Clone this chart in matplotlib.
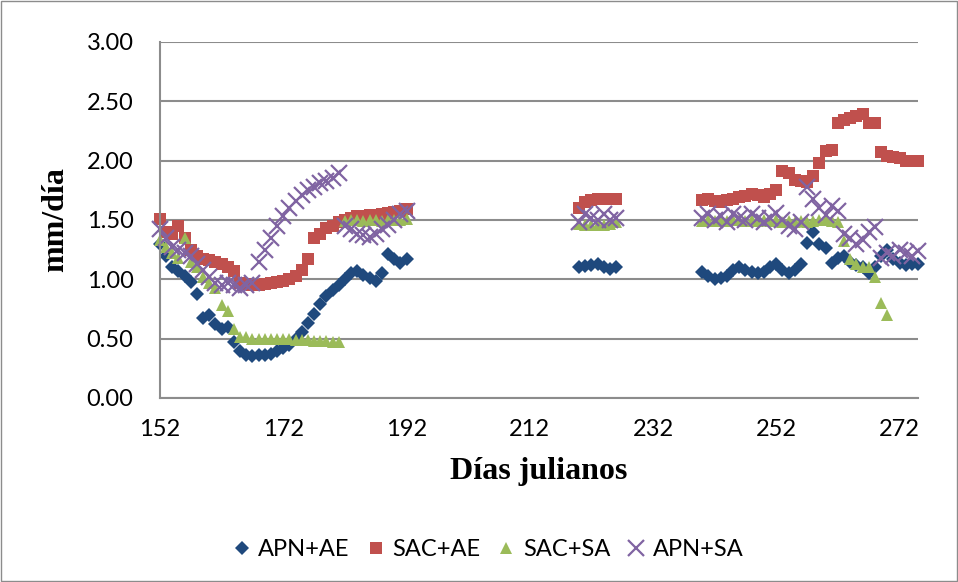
import numpy as np
import matplotlib
matplotlib.use("Agg")
import matplotlib.pyplot as plt
from matplotlib.patches import Rectangle

# dias julianos de cada periodo de medicion
dias_p1 = list(range(152, 193))
dias_p2 = list(range(220, 227))
dias_p3 = list(range(240, 276))

# APN+AE
apn_ae_p1 = [1.30, 1.20, 1.10, 1.07, 1.03, 0.98, 0.88, 0.67, 0.70, 0.62, 0.58, 0.60, 0.47,
             0.40, 0.36, 0.35, 0.36, 0.36, 0.37, 0.40, 0.42, 0.45, 0.50, 0.56, 0.63, 0.71,
             0.79, 0.86, 0.91, 0.95, 1.00, 1.05, 1.07, 1.04, 1.01, 0.99, 1.05, 1.21, 1.17,
             1.14, 1.17]
apn_ae_p2 = [1.10, 1.11, 1.12, 1.13, 1.10, 1.09, 1.10]
apn_ae_p3 = [1.06, 1.03, 1.00, 1.01, 1.03, 1.08, 1.10, 1.08, 1.06, 1.05, 1.06, 1.10, 1.13,
             1.08, 1.05, 1.08, 1.13, 1.31, 1.40, 1.30, 1.26, 1.14, 1.18, 1.20, 1.15, 1.12,
             1.10, 1.05, 1.10, 1.20, 1.25, 1.17, 1.14, 1.12, 1.13, 1.13]

# SAC+AE
sac_ae_p1 = [1.51, 1.40, 1.38, 1.45, 1.35, 1.25, 1.20, 1.17, 1.16, 1.15, 1.13, 1.10, 1.07,
             0.97, 0.96, 0.95, 0.95, 0.96, 0.97, 0.98, 0.99, 1.00, 1.03, 1.08, 1.17, 1.35,
             1.38, 1.43, 1.45, 1.48, 1.50, 1.52, 1.53, 1.53, 1.54, 1.54, 1.55, 1.56, 1.57,
             1.58, 1.59]
sac_ae_p2 = [1.60, 1.65, 1.67, 1.68, 1.68, 1.68, 1.68]
sac_ae_p3 = [1.67, 1.68, 1.66, 1.65, 1.67, 1.68, 1.69, 1.70, 1.72, 1.71, 1.69, 1.72, 1.75,
             1.91, 1.90, 1.84, 1.83, 1.82, 1.87, 1.98, 2.08, 2.09, 2.32, 2.34, 2.36, 2.38,
             2.39, 2.32, 2.32, 2.07, 2.04, 2.03, 2.02, 2.00, 2.00, 2.00]

# SAC+SA
sac_sa_p1 = [1.33, 1.27, 1.22, 1.18, 1.35, 1.15, 1.10, 1.02, 0.97, 0.93, 0.78, 0.73, 0.58,
             0.51, 0.51, 0.50, 0.50, 0.50, 0.50, 0.50, 0.50, 0.50, 0.49, 0.49, 0.49, 0.48,
             0.48, 0.48, 0.47, 0.47, 1.49, 1.50, 1.50, 1.49, 1.50, 1.50, 1.49, 1.50, 1.50,
             1.50, 1.51]
sac_sa_p2 = [1.47, 1.46, 1.46, 1.46, 1.46, 1.47, 1.48]
sac_sa_p3 = [1.49, 1.50, 1.49, 1.50, 1.49, 1.50, 1.50, 1.49, 1.50, 1.49, 1.50, 1.49, 1.50,
             1.48, 1.49, 1.48, 1.49, 1.48, 1.49, 1.50, 1.50, 1.49, 1.48, 1.32, 1.17, 1.13,
             1.10, 1.10, 1.02, 0.80, 0.70, np.nan, np.nan, np.nan, np.nan, np.nan]

# APN+SA
apn_sa_p1 = [1.42, 1.35, 1.27, 1.25, 1.22, 1.20, 1.13, 1.08, 1.02, 0.97, 0.95, 0.97, 0.95,
             0.93, 0.95, 0.97, 1.15, 1.25, 1.35, 1.45, 1.53, 1.60, 1.66, 1.71, 1.75, 1.78,
             1.81, 1.83, 1.85, 1.90, 1.45, 1.42, 1.38, 1.37, 1.36, 1.38, 1.42, 1.46, 1.50,
             1.55, 1.58]
apn_sa_p2 = [1.48, 1.55, 1.52, 1.50, 1.55, 1.50, 1.52]
apn_sa_p3 = [1.52, 1.55, 1.50, 1.53, 1.48, 1.55, 1.52, 1.50, 1.55, 1.52, 1.48, 1.52, 1.56,
             1.50, 1.45, 1.42, 1.48, 1.78, 1.68, 1.60, 1.54, 1.62, 1.58, 1.38, 1.35, 1.30,
             1.33, 1.40, 1.44, 1.18, 1.22, 1.20, 1.25, 1.22, 1.20, 1.24]

dias = dias_p1 + dias_p2 + dias_p3
series = [
    ("APN+AE", apn_ae_p1 + apn_ae_p2 + apn_ae_p3, "D", "#1F497D", 7.5),
    ("SAC+AE", sac_ae_p1 + sac_ae_p2 + sac_ae_p3, "s", "#C0504D", 8.5),
    ("SAC+SA", sac_sa_p1 + sac_sa_p2 + sac_sa_p3, "^", "#9BBB59", 9),
    ("APN+SA", apn_sa_p1 + apn_sa_p2 + apn_sa_p3, "x", "#8064A2", 11),
]

fuente = "Lato"
tam_letra = 17

fig = plt.figure(figsize=(9.58, 5.82), dpi=100)
fig.patches.append(Rectangle((0.001, 0.002), 0.998, 0.996, transform=fig.transFigure,
                             fill=False, edgecolor="#8C8C8C", linewidth=1))
ax = fig.add_axes([160 / 958, 184 / 582, 758 / 958, 356 / 582])

for nombre, valores, marca, color, tam in series:
    if marca == "x":
        ax.plot(dias, valores, linestyle="none", marker=marca, color=color,
                markersize=tam, markeredgewidth=1.6, label=nombre, clip_on=False)
    else:
        ax.plot(dias, valores, linestyle="none", marker=marca, color=color,
                markersize=tam, markeredgewidth=0, label=nombre, clip_on=False)

ax.set_xlim(152, 275)
ax.set_ylim(0, 3)
ax.set_xticks(range(152, 275, 20))
ax.set_yticks(np.arange(0, 3.01, 0.5))
ax.set_yticklabels(["%.2f" % v for v in np.arange(0, 3.01, 0.5)])
ax.grid(axis="y", color="#8C8C8C", linewidth=1.5)
ax.set_axisbelow(True)
ax.tick_params(axis="y", length=0, labelsize=tam_letra, pad=19)
ax.tick_params(axis="x", length=0, labelsize=tam_letra, pad=15)
for lab in ax.get_xticklabels() + ax.get_yticklabels():
    lab.set_family(fuente)
for lado in ["top", "right"]:
    ax.spines[lado].set_visible(False)
for lado in ["left", "bottom"]:
    ax.spines[lado].set_color("#8C8C8C")
    ax.spines[lado].set_linewidth(1.5)

ax.set_ylabel("mm/día", family="Liberation Serif", fontweight="bold", fontsize=23, labelpad=12)
ax.set_xlabel("Días julianos", family="Liberation Serif", fontweight="bold", fontsize=23, labelpad=12)

ax.legend(loc="center", bbox_to_anchor=(0.434, -0.425), ncol=4, frameon=False,
          prop={"family": fuente, "size": tam_letra}, handletextpad=0.4, columnspacing=0.8,
          handlelength=0.6)

fig.savefig("out.png", dpi=100)
